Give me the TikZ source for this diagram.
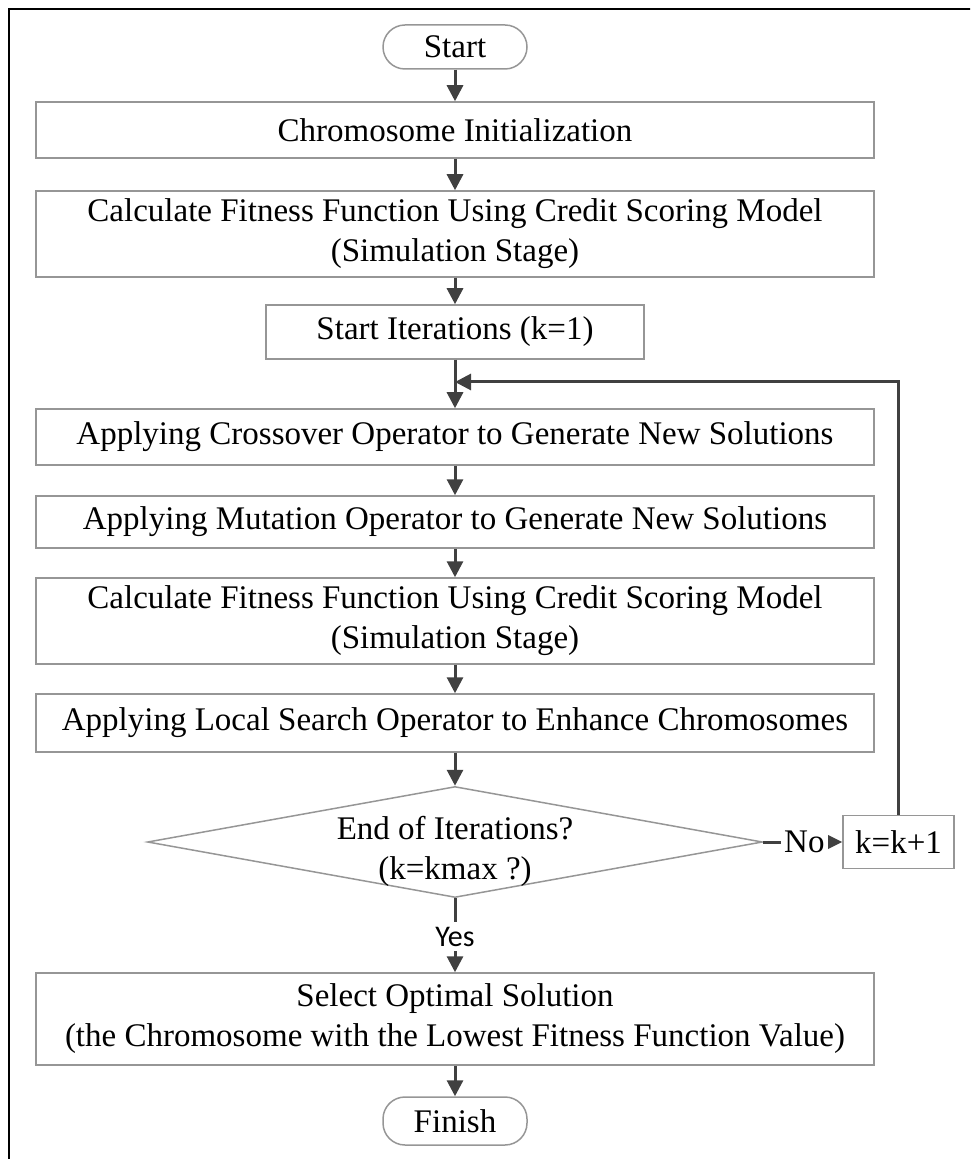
\documentclass[tikz,border=0pt]{standalone}
\usepackage{fontspec}
\setmainfont{Liberation Serif}
\newfontfamily\yesfont{Carlito}
\usetikzlibrary{shapes, arrows.meta}
\definecolor{boxgray}{RGB}{150,150,150}
\definecolor{arrowgray}{RGB}{64,64,64}

\begin{document}
\begin{tikzpicture}[x=0.5pt, y=-0.5pt]
\newcommand{\midx}{455}
\newcommand{\loopy}{382}

\tikzset{ stepbox/.style={draw=boxgray, line width=0.75pt, minimum
    width=419pt, align=center, inner sep=2pt},
  termstyle/.style={draw=boxgray, line width=0.75pt, rounded
    corners=11pt, minimum width=72pt, minimum height=22pt},
  decstyle/.style={draw=boxgray, line width=0.75pt, diamond, inner
    sep=0pt, minimum width=307.5pt, minimum height=55.5pt},
  arrowstyle/.style = {-{Triangle[length=8pt, width=8pt]}, line
    width=1.5pt, draw=arrowgray},
  noarrow/.style = {-{Triangle[length=7.5pt, width=7pt]}, line
    width=1.5pt, draw=arrowgray},
  font={\fontsize{16.5pt}{20pt}\selectfont}
}

\useasboundingbox (0,0) rectangle (970,1159);
\clip (0,0) rectangle (970,1159);
\draw[line width=1.3pt] (9,9) rectangle (990,1180);

\node[termstyle] (start) at (\midx,47) {Start};
\node[stepbox, minimum height=28pt] (init) at (\midx,130) {Chromosome Initialization};
\node[stepbox, minimum height=43pt] (calc1) at (\midx,234)
  {Calculate Fitness Function Using Credit Scoring Model\\(Simulation Stage)};
\node[stepbox, minimum width=189pt, minimum height=27pt] (iter) at (\midx,332) {Start Iterations (k=1)};
\node[stepbox, minimum height=28pt] (cross) at (\midx,437)
  {Applying Crossover Operator to Generate New Solutions};
\node[stepbox, minimum height=26pt] (mut) at (\midx,522)
  {Applying Mutation Operator to Generate New Solutions};
\node[stepbox, minimum height=43pt] (calc2) at (\midx,621)
  {Calculate Fitness Function Using Credit Scoring Model\\(Simulation Stage)};
\node[stepbox, minimum height=29pt] (local) at (\midx,723)
  {Applying Local Search Operator to Enhance Chromosomes};
\node[decstyle, label={[align=center, yshift=-4.5pt]center:{End of Iterations?\\(k=kmax ?)}}]
  (dec) at (\midx,842) {};
\node[stepbox, minimum width=55.5pt, minimum height=26.5pt] (kinc) at (898.5,842) {k=k+1};
\node[stepbox, minimum height=46pt] (select) at (\midx,1019)
  {Select Optimal Solution\\(the Chromosome with the Lowest Fitness Function Value)};
\node[termstyle, minimum height=24pt] (finish) at (\midx,1121) {Finish};

\coordinate (merge) at (\midx,\loopy);

\draw[arrowstyle] (start) -- (init);
\draw[arrowstyle] (init) -- (calc1);
\draw[arrowstyle] (calc1) -- (iter);
\draw[arrowstyle] (iter) -- (cross);
\draw[arrowstyle] (cross) -- (mut);
\draw[arrowstyle] (mut) -- (calc2);
\draw[arrowstyle] (calc2) -- (local);
\draw[arrowstyle] (local) -- (dec);
\draw[arrowstyle] (dec) -- node[fill=white, pos=0.52, inner xsep=2pt, inner ysep=2.5pt,
  font={\yesfont\fontsize{15pt}{18pt}\selectfont}] {Yes} (select);
\draw[arrowstyle] (select) -- (finish);
\draw[noarrow] (dec.east) -- node[fill=white, pos=0.52, inner xsep=1.5pt] {No} (kinc.west);
\draw[arrowstyle] (kinc) |- (merge);

\end{tikzpicture}
\end{document}
